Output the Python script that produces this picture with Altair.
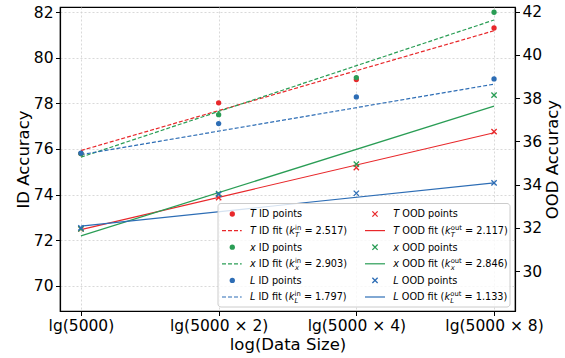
import altair as alt
import pandas as pd

# ---------------- data ----------------
sizes = [5000, 10000, 20000, 40000]
models = ["T", "x", "L"]
id_T = [75.80, 78.02, 79.04, 81.30]
id_x = [75.80, 77.50, 79.13, 81.99]
id_L = [75.82, 77.11, 78.28, 79.07]
ood_T = [31.95, 33.40, 34.79, 36.45]
ood_x = [31.95, 33.58, 34.95, 38.14]
ood_L = [32.00, 33.55, 33.60, 34.08]
fit_sizes = [5000, 40000]
idfit_T = [75.93, 81.18]
idfit_x = [75.64, 81.65]
idfit_L = [75.75, 78.84]
oodfit_T = [31.92, 36.40]
oodfit_x = [31.63, 37.63]
oodfit_L = [32.08, 34.08]
k_in = ["2.517", "2.903", "1.797"]
k_out = ["2.117", "2.846", "1.133"]
x_labels = ["lg(5000)", "lg(5000 × 2)", "lg(5000 × 4)", "lg(5000 × 8)"]
id_ticks = [70, 72, 74, 76, 78, 80, 82]
ood_ticks = [30, 32, 34, 36, 38, 40, 42]
colors = ["#e8282b", "#2a9d55", "#2d6db5"]

FONT = "DejaVu Sans"


def long_df(arrs, xs):
    rows = []
    for m, arr in zip(models, arrs):
        for s, v in zip(xs, arr):
            rows.append({"size": s, "model": m, "acc": v})
    return pd.DataFrame(rows)


id_pts = long_df([id_T, id_x, id_L], sizes)
ood_pts = long_df([ood_T, ood_x, ood_L], sizes)
id_fit = long_df([idfit_T, idfit_x, idfit_L], fit_sizes)
ood_fit = long_df([oodfit_T, oodfit_x, oodfit_L], fit_sizes)

label_expr = " : ".join(
    f"datum.value == {s} ? '{l}'" for s, l in zip(sizes, x_labels)
) + " : ''"

grid_kw = dict(grid=True, gridColor="#cfcfcf", gridDash=[2, 2], gridWidth=0.8)

X = alt.X(
    "size:Q",
    scale=alt.Scale(type="log", base=2, domain=[4500, 44450], nice=False),
    axis=alt.Axis(values=sizes, labelExpr=label_expr, title="log(Data Size)",
                  labelFlush=False, labelOverlap=False, titlePadding=3, **grid_kw),
)
color = alt.Color("model:N", scale=alt.Scale(domain=models, range=colors), legend=None)

Y_id = alt.Y(
    "acc:Q",
    scale=alt.Scale(domain=[68.9, 82.22], nice=False, zero=False),
    axis=alt.Axis(values=id_ticks, title="ID Accuracy", titlePadding=2, **grid_kw),
)
Y_ood = alt.Y(
    "acc:Q",
    scale=alt.Scale(domain=[28.15, 42.22], nice=False, zero=False),
    axis=alt.Axis(values=ood_ticks, title="OOD Accuracy", orient="right", grid=False,
                  titleAngle=270, titleBaseline="top", titlePadding=3),
)

id_lines = alt.Chart(id_fit).mark_line(strokeWidth=1.2, strokeDash=[4, 2]).encode(
    x=X, y=Y_id, color=color, detail="model:N")
id_points = alt.Chart(id_pts).mark_point(filled=True, shape="circle", size=28, opacity=1).encode(
    x=X, y=Y_id, color=color)
ood_lines = alt.Chart(ood_fit).mark_line(strokeWidth=1.2).encode(
    x=X, y=Y_ood, color=color, detail="model:N")
XSHAPE = "M-1,-1L1,1M-1,1L1,-1"
ood_points = alt.Chart(ood_pts).mark_point(shape=XSHAPE, filled=False, size=28, strokeWidth=1.3,
                                            opacity=1).encode(x=X, y=Y_ood, color=color)

id_layer = alt.layer(id_lines, id_points)
ood_layer = alt.layer(ood_lines, ood_points)

# ---------------- manual legend ----------------
dummy = pd.DataFrame({"d": [0]})
CW = {" ": 0.318, "(": 0.390, ")": 0.390, ".": 0.318, "=": 0.838, "I": 0.295, "D": 0.770,
      "O": 0.787, "T": 0.611, "L": 0.557, "x": 0.592, "f": 0.352, "i": 0.278, "t": 0.392,
      "p": 0.635, "o": 0.612, "n": 0.634, "s": 0.521, "u": 0.634, "k": 0.579}
for dgt in "0123456789":
    CW[dgt] = 0.636


def tw(s, size):
    return sum(CW.get(c, 0.6) for c in s) * size


def txt(x, y, s, size, italic=False):
    # SVG collapses leading spaces: shift instead
    lead = len(s) - len(s.lstrip(" "))
    x = x + lead * CW[" "] * size
    s = s.lstrip(" ")
    return alt.Chart(dummy).mark_text(
        text=s, font=FONT, fontSize=size, fontStyle="italic" if italic else "normal",
        align="left", baseline="alphabetic", color="black",
    ).encode(x=alt.value(x), y=alt.value(y))


FS = 9.7
SS = 6.8
legend_layers = [
    alt.Chart(dummy).mark_rect(fill="white", fillOpacity=0.8, stroke="#cccccc", strokeWidth=1,
                               cornerRadius=3).encode(
        x=alt.value(158), x2=alt.value(450), y=alt.value(196.5), y2=alt.value(300))
]

cols = [
    dict(kind="ID", sup="in", ks=k_in, mark_x=172.3, line=(162, 181.7), text_x=190, dash=[4, 2],
         shape="circle", filled=True),
    dict(kind="OOD", sup="out", ks=k_out, mark_x=315, line=(305, 325), text_x=333.3, dash=None,
         shape=XSHAPE, filled=False),
]
for col in cols:
    for i, m in enumerate(models):
        c = colors[i]
        # points row
        yc = 207 + 16.6 * (2 * i)
        yb = yc + 3.4
        legend_layers.append(
            alt.Chart(dummy).mark_point(shape=col["shape"], filled=col["filled"], size=28,
                                        strokeWidth=1.3, opacity=1, color=c).encode(
                x=alt.value(col["mark_x"]), y=alt.value(yc)))
        x0 = col["text_x"]
        legend_layers.append(txt(x0, yb, m, FS, italic=True))
        legend_layers.append(txt(x0 + tw(m, FS), yb, f" {col['kind']} points", FS))
        # fit row
        yc = 207 + 16.6 * (2 * i + 1)
        yb = yc + 3.4
        rule_kw = dict(strokeWidth=1.2, color=c)
        if col["dash"]:
            rule_kw["strokeDash"] = col["dash"]
        legend_layers.append(
            alt.Chart(dummy).mark_rule(**rule_kw).encode(
                x=alt.value(col["line"][0]), x2=alt.value(col["line"][1]), y=alt.value(yc)))
        x = x0
        legend_layers.append(txt(x, yb, m, FS, italic=True))
        x += tw(m, FS)
        s = f" {col['kind']} fit ("
        legend_layers.append(txt(x, yb, s, FS))
        x += tw(s, FS)
        legend_layers.append(txt(x, yb, "k", FS, italic=True))
        x += tw("k", FS) + 0.3
        legend_layers.append(txt(x, yb + 2.6, m, SS, italic=True))
        legend_layers.append(txt(x, yb - 4.2, col["sup"], SS))
        x += max(tw(m, SS), tw(col["sup"], SS))
        legend_layers.append(txt(x, yb, f" = {col['ks'][i]})", FS))

chart = alt.layer(id_layer, ood_layer, *legend_layers).resolve_scale(y="independent").properties(
    width=455, height=304,
    autosize=alt.AutoSizeParams(type="none"),
    padding={"left": 60, "top": 7, "right": 50, "bottom": 47},
).configure_view(stroke="black", strokeWidth=1.2).configure_axis(
    domainColor="black", domainWidth=1.2, tickColor="black", tickSize=4.5, tickWidth=1,
    labelFont=FONT, labelFontSize=15.5, labelColor="black", labelPadding=2.5,
    titleFont=FONT, titleFontSize=16.5, titleFontWeight="normal", titleColor="black",
)

chart.save("out.html", embed_options={"renderer": "svg", "actions": False})
